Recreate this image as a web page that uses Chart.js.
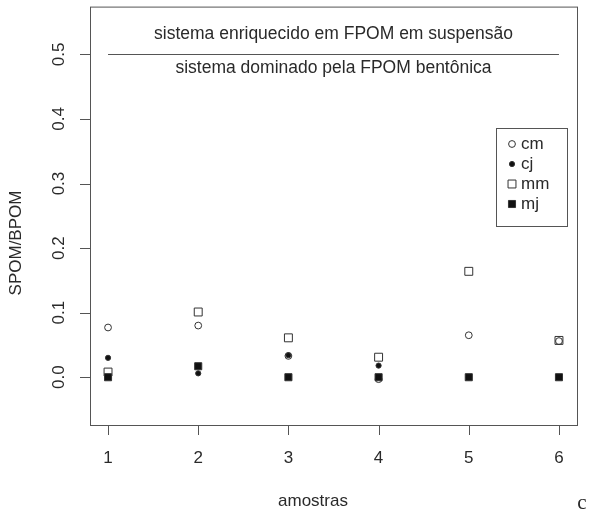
<!DOCTYPE html>
<html>
<head>
<meta charset="utf-8">
<title>SPOM/BPOM</title>
<script src="https://cdn.jsdelivr.net/npm/chart.js@4.4.1/dist/chart.umd.min.js"></script>
<style>
  html, body { margin: 0; padding: 0; background: #fff; }
  canvas { display: block; }
</style>
</head>
<body>
<canvas id="razao" width="594" height="518"></canvas>
<script>
// amostras 1..6, razao SPOM/BPOM por tratamento
const amostras = [1, 2, 3, 4, 5, 6];
const cm = [0.077, 0.080, 0.033, -0.003, 0.065, 0.056];
const cj = [0.030, 0.006, 0.034, 0.018, 0.000, 0.000];
const mm = [0.008, 0.101, 0.061, 0.031, 0.164, 0.057];
const mj = [0.000, 0.017, 0.000, 0.000, 0.000, 0.000];
const yTicks = [0.0, 0.1, 0.2, 0.3, 0.4, 0.5];
const yLim = [-0.05, 0.55];
const limiar = 0.5;
const textoAcima = 'sistema enriquecido em FPOM em suspensão';
const textoAbaixo = 'sistema dominado pela FPOM bentônica';

const FONTE = '"Liberation Sans", Arial, sans-serif';
const COR_EIXO = '#555';
const COR_TEXTO = '#2a2a2a';

// limites com a folga de 4% (como o R faz por padrao)
function folga(lo, hi) {
  const d = (hi - lo) * 0.04;
  return [lo - d, hi + d];
}
const xr = folga(Math.min(...amostras), Math.max(...amostras));
const yr = folga(yLim[0], yLim[1]);

function pontos(serie) {
  return amostras.map((a, i) => ({ x: a, y: serie[i] }));
}

const series = [
  { label: 'cm', data: cm, style: 'circle', radius: 3.4, fill: 'rgba(0,0,0,0)', order: 3 },
  { label: 'cj', data: cj, style: 'circle', radius: 2.6, fill: '#111', order: 2 },
  { label: 'mm', data: mm, style: 'rect', radius: 5.6, fill: 'rgba(0,0,0,0)', order: 1 },
  { label: 'mj', data: mj, style: 'rect', radius: 5.0, fill: '#111', order: 0 }
];

function marcador(ctx, s, px, py) {
  ctx.save();
  ctx.lineWidth = 1;
  ctx.strokeStyle = '#333';
  ctx.fillStyle = s.fill;
  ctx.beginPath();
  if (s.style === 'circle') {
    ctx.arc(px, py, s.radius, 0, Math.PI * 2);
  } else {
    const h = s.radius * Math.SQRT1_2;
    ctx.rect(px - h, py - h, 2 * h, 2 * h);
  }
  ctx.fill();
  ctx.stroke();
  ctx.restore();
}

// caixa, eixos, linha de 0.5, legenda e rotulos no estilo do R
const eixosR = {
  id: 'eixosR',
  afterDraw(chart) {
    const { ctx, chartArea: a, scales: { x, y } } = chart;
    ctx.save();
    ctx.strokeStyle = COR_EIXO;
    ctx.lineWidth = 1;
    ctx.strokeRect(a.left + 0.5, a.top + 0.5, a.right - a.left, a.bottom - a.top);

    ctx.beginPath();
    amostras.forEach(v => {
      const px = Math.round(x.getPixelForValue(v)) + 0.5;
      ctx.moveTo(px, a.bottom);
      ctx.lineTo(px, a.bottom + 10);
    });
    yTicks.forEach(v => {
      const py = Math.round(y.getPixelForValue(v)) + 0.5;
      ctx.moveTo(a.left, py);
      ctx.lineTo(a.left - 10, py);
    });
    ctx.stroke();

    ctx.fillStyle = COR_TEXTO;
    ctx.font = '17px ' + FONTE;
    ctx.textAlign = 'center';
    ctx.textBaseline = 'middle';
    amostras.forEach(v => ctx.fillText(String(v), x.getPixelForValue(v), a.bottom + 33));
    yTicks.forEach(v => {
      ctx.save();
      ctx.translate(a.left - 31, y.getPixelForValue(v));
      ctx.rotate(-Math.PI / 2);
      ctx.fillText(v.toFixed(1), 0, 0);
      ctx.restore();
    });

    // titulos dos eixos
    ctx.fillText('amostras', 313, a.bottom + 76);
    ctx.save();
    ctx.translate(16, 243);
    ctx.rotate(-Math.PI / 2);
    ctx.fillText('SPOM/BPOM', 0, 0);
    ctx.restore();

    // linha limiar
    const ly = Math.round(y.getPixelForValue(limiar)) + 0.5;
    const x1 = x.getPixelForValue(amostras[0]);
    const x6 = x.getPixelForValue(amostras[amostras.length - 1]);
    ctx.beginPath();
    ctx.moveTo(x1, ly);
    ctx.lineTo(x6, ly);
    ctx.stroke();
    const xm = (x1 + x6) / 2;
    ctx.font = '17.5px ' + FONTE;
    ctx.fillText(textoAcima, xm, ly - 20);
    ctx.fillText(textoAbaixo, xm, ly + 14);

    // legenda
    ctx.font = '17px ' + FONTE;
    const lx = a.right - 81, lt = 128, lw = 71, lh = 98;
    ctx.fillStyle = '#fff';
    ctx.fillRect(lx, lt, lw, lh);
    ctx.strokeRect(lx + 0.5, lt + 0.5, lw, lh);
    ctx.textAlign = 'left';
    series.forEach((s, i) => {
      const ey = lt + 16 + i * 20;
      marcador(ctx, s, lx + 16, ey);
      ctx.fillStyle = COR_TEXTO;
      ctx.fillText(s.label, lx + 25, ey);
    });

    ctx.font = '21px "Liberation Serif", "Times New Roman", serif';
    ctx.textAlign = 'center';
    ctx.fillText('c', 582, 503);
    ctx.restore();
  }
};

new Chart(document.getElementById('razao'), {
  type: 'scatter',
  data: {
    datasets: series.map(s => ({
      label: s.label,
      data: pontos(s.data),
      pointStyle: s.style,
      pointRadius: s.radius,
      pointHoverRadius: s.radius,
      pointBackgroundColor: s.fill,
      pointBorderColor: '#333',
      pointBorderWidth: 1,
      order: s.order
    }))
  },
  options: {
    responsive: false,
    devicePixelRatio: 1,
    animation: false,
    layout: { padding: { left: 90, right: 17, top: 5, bottom: 93 } },
    plugins: { legend: { display: false }, tooltip: { enabled: false } },
    scales: {
      x: { type: 'linear', display: false, min: xr[0], max: xr[1] },
      y: { type: 'linear', display: false, min: yr[0], max: yr[1] }
    }
  },
  plugins: [eixosR]
});
</script>
</body>
</html>
